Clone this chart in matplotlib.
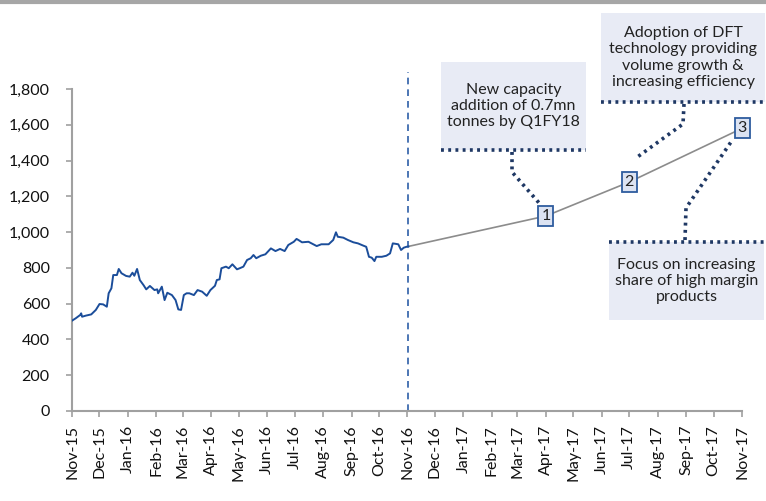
import matplotlib
matplotlib.use('Agg')
import matplotlib.pyplot as plt
import matplotlib.dates as mdates
import matplotlib.ticker as mticker
from matplotlib.patches import Rectangle
from matplotlib.lines import Line2D
import pandas as pd

plt.rcParams['font.family'] = ['Lato', 'DejaVu Sans']

# Historical price
hist_dates = [
    '2015-11-01', '2015-11-05', '2015-11-10', '2015-11-11', '2015-11-12', '2015-11-16',
    '2015-11-22', '2015-11-27', '2015-12-01', '2015-12-05', '2015-12-09', '2015-12-11',
    '2015-12-14', '2015-12-16', '2015-12-20', '2015-12-22', '2015-12-25', '2015-12-30',
    '2016-01-03', '2016-01-06', '2016-01-08', '2016-01-11', '2016-01-14', '2016-01-18',
    '2016-01-21', '2016-01-25', '2016-01-30', '2016-02-02', '2016-02-03', '2016-02-07',
    '2016-02-10', '2016-02-13', '2016-02-18', '2016-02-22', '2016-02-25', '2016-02-28',
    '2016-03-02', '2016-03-05', '2016-03-08', '2016-03-13', '2016-03-17', '2016-03-22',
    '2016-03-27', '2016-03-31', '2016-04-05', '2016-04-07', '2016-04-10', '2016-04-12',
    '2016-04-17', '2016-04-20', '2016-04-24', '2016-04-29', '2016-05-02', '2016-05-06',
    '2016-05-10', '2016-05-14', '2016-05-17', '2016-05-20', '2016-05-25', '2016-05-30',
    '2016-06-05', '2016-06-10', '2016-06-15', '2016-06-20', '2016-06-24', '2016-06-30',
    '2016-07-03', '2016-07-05', '2016-07-09', '2016-07-16', '2016-07-25', '2016-07-30',
    '2016-08-07', '2016-08-12', '2016-08-15', '2016-08-17', '2016-08-23', '2016-08-28',
    '2016-09-03', '2016-09-08', '2016-09-14', '2016-09-17', '2016-09-20', '2016-09-23',
    '2016-09-26', '2016-09-28', '2016-10-04', '2016-10-09', '2016-10-13', '2016-10-16',
    '2016-10-22', '2016-10-25', '2016-10-28', '2016-10-31', '2016-11-02',
]
hist_values = [
    505, 518, 537, 546, 527, 533,
    540, 565, 598, 596, 583, 658,
    686, 760, 760, 794, 770, 755,
    751, 773, 756, 794, 732, 704,
    680, 699, 676, 680, 658, 695,
    620, 661, 648, 620, 568, 565,
    648, 658, 658, 648, 676, 667,
    644, 676, 700, 732, 736, 798,
    807, 798, 820, 792, 798, 807,
    844, 854, 872, 854, 868, 876,
    909, 894, 906, 894, 928, 946,
    962, 956, 943, 946, 922, 932,
    932, 956, 999, 974, 969, 956,
    943, 937, 924, 918, 862, 857,
    838, 862, 862, 868, 881, 937,
    932, 900, 913, 918, 920,
]

# Projection path
proj_dates = ['2016-11-02', '2017-04-01', '2017-07-01', '2017-11-01']
proj_values = [920, 1090, 1280, 1580]
proj_labels = ['', '1', '2', '3']

divider_date = '2016-11-02'

notes = [
    'New capacity\naddition of 0.7mn\ntonnes by Q1FY18',
    'Adoption of DFT\ntechnology providing\nvolume growth &\nincreasing efficiency',
    'Focus on increasing\nshare of high margin\nproducts',
]

W, H = 766, 501
fig = plt.figure(figsize=(W / 100, H / 100), dpi=100)
ax = fig.add_axes([72 / W, 1 - 411 / H, (742 - 72) / W, (411 - 89) / H])

hx = pd.to_datetime(hist_dates)
px_ = pd.to_datetime(proj_dates)

ax.plot(hx, hist_values, color='#1B4D9A', lw=1.4, zorder=3)
ax.plot(px_, proj_values, color='#8C8C8C', lw=1.2, zorder=2)

dv = pd.to_datetime(divider_date)
ax.plot([dv, dv], [0, 1895], color='#2E5FA8', lw=1.2, ls=(0, (4, 3)), clip_on=False, zorder=2)

for d, v, lab in zip(px_, proj_values, proj_labels):
    if lab:
        ax.text(d, v, lab, ha='center', va='center', fontsize=11.5, color='#222222', zorder=5,
                bbox=dict(boxstyle='square,pad=0.18', fc='#DCE3F2', ec='#2E5C9E', lw=1.3))

ax.set_xlim(pd.Timestamp('2015-11-01'), pd.Timestamp('2017-11-01'))
ax.set_ylim(0, 1800)
ax.xaxis.set_major_locator(mdates.MonthLocator())
ax.xaxis.set_major_formatter(mdates.DateFormatter('%b-%y'))
ax.yaxis.set_major_locator(mticker.MultipleLocator(200))
ax.yaxis.set_major_formatter(mticker.FuncFormatter(lambda v, p: f'{int(v):,}'))
for lab in ax.get_xticklabels():
    lab.set_rotation(90)

ax.spines['top'].set_visible(False)
ax.spines['right'].set_visible(False)
for s in ('left', 'bottom'):
    ax.spines[s].set_color('#A0A0A0')
    ax.spines[s].set_linewidth(1.5)
ax.tick_params(axis='both', colors='#A0A0A0', length=4, width=1.2, labelcolor='#111111', labelsize=11.5)
ax.tick_params(axis='y', pad=12)
ax.tick_params(axis='x', pad=6)


# note boxes, given in pixel positions of the figure
def fx(x):
    return x / W


def fy(y):
    return 1 - y / H


box_fill = '#E8EBF5'
dot_col = '#1F3864'
dot_style = dict(color=dot_col, lw=2.6, ls=(0, (0.8, 1.2)), dash_capstyle='butt')

boxes = [(441, 62, 586, 150), (601, 13, 765, 102), (609, 242, 764, 320)]
for (x0, y0, x1, y1), txt in zip(boxes, notes):
    fig.add_artist(Rectangle((fx(x0), fy(y1)), fx(x1 - x0), (y1 - y0) / H,
                             transform=fig.transFigure, fc=box_fill, ec='none', zorder=1))
    fig.text(fx((x0 + x1) / 2), fy((y0 + y1) / 2), txt, ha='center', va='center',
             fontsize=11.5, color='#222222', linespacing=1.2, zorder=4)

# dotted edges and leader lines
dotted = [
    ([441, 586], [150, 150]),
    ([601, 765], [102, 102]),
    ([609, 764], [242, 242]),
    ([512, 512, 540], [152, 172, 204]),
    ([684, 683, 636], [104, 124, 158]),
    ([685, 686, 731], [240, 208, 142]),
]
for xs, ys in dotted:
    fig.add_artist(Line2D([fx(x) for x in xs], [fy(y) for y in ys],
                          transform=fig.transFigure, zorder=4, **dot_style))

# grey rule at the very top
fig.add_artist(Line2D([0, 1], [fy(2), fy(2)], transform=fig.transFigure, color='#A6A6A6', lw=3))

fig.savefig('out.png', dpi=100)
